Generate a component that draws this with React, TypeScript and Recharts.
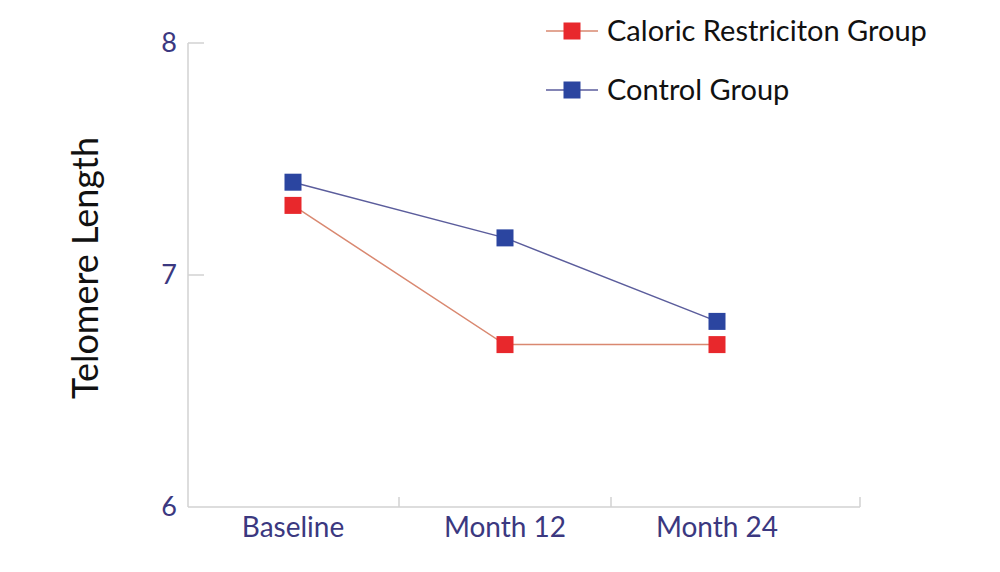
import { Line, LineChart, XAxis, YAxis } from 'recharts';

const categories = ['Baseline', 'Month 12', 'Month 24'];
const caloricValues = [7.3, 6.7, 6.7];
const controlValues = [7.4, 7.16, 6.8];
const yTicks = [6, 7, 8];
const caloricName = 'Caloric Restriciton Group';
const controlName = 'Control Group';
const yTitle = 'Telomere Length';

const data = categories.map((label, i) => ({
  label,
  caloric: caloricValues[i],
  control: controlValues[i],
}));

const FONT = 'Lato, "Open Sans", sans-serif';
const AXIS = '#d2d2d2';
const TICK_TEXT = '#3b3880';
const RED = '#e8282c';
const RED_LINE = '#d98870';
const BLUE = '#2b45a0';
const BLUE_LINE = '#5b5d9c';
const HALF_BAND = 106;
const PAD_LEFT = 105;
const PAD_RIGHT = 143;
const SQ = 17;

const squareDot = (color: string) => (props: any) => {
  const { cx, cy, index } = props;
  if (cx == null || cy == null) return <g key={index} />;
  return <rect key={index} x={cx - SQ / 2} y={cy - SQ / 2} width={SQ} height={SQ} fill={color} />;
};

const XTick = (props: any) => {
  const { x, y, payload, index } = props;
  const last = index === categories.length - 1;
  const edge = x + (last ? PAD_RIGHT : HALF_BAND);
  return (
    <g>
      <line x1={edge} x2={edge} y1={y - 10} y2={y} stroke={AXIS} strokeWidth={1.5} />
      <text x={x} y={y + 30} textAnchor='middle' fill={TICK_TEXT} fontSize={28} fontFamily={FONT}>
        {payload.value}
      </text>
    </g>
  );
};

const YTick = (props: any) => {
  const { x, y, payload } = props;
  return (
    <g>
      {payload.value !== yTicks[0] && (
        <line x1={x} x2={x + 16} y1={y} y2={y} stroke={AXIS} strokeWidth={1.5} />
      )}
      <text x={x - 11} y={y + 9} textAnchor='end' fill={TICK_TEXT} fontSize={27} fontFamily={FONT}>
        {payload.value}
      </text>
    </g>
  );
};

const YTitle = (props: any) => {
  const { viewBox } = props;
  const cx = viewBox.x + 64;
  const cy = viewBox.y + viewBox.height / 2 - 7;
  return (
    <text
      x={cx}
      y={cy}
      transform={`rotate(-90 ${cx} ${cy})`}
      textAnchor='middle'
      dominantBaseline='central'
      fill='#111'
      fontSize={36}
      fontFamily={FONT}
    >
      {yTitle}
    </text>
  );
};

// legend drawn as an overlay so it doesn't eat into the plot area
const LegendBox = () => {
  const rows = [
    { name: caloricName, fill: RED, line: RED_LINE },
    { name: controlName, fill: BLUE, line: BLUE_LINE },
  ];
  return (
    <svg width={440} height={110} style={{ position: 'absolute', left: 540, top: 11 }}>
      {rows.map((r, i) => {
        const cy = 20 + i * 59;
        return (
          <g key={r.name}>
            <line x1={6} x2={58} y1={cy} y2={cy} stroke={r.line} strokeWidth={1.5} />
            <rect x={32 - SQ / 2} y={cy - SQ / 2} width={SQ} height={SQ} fill={r.fill} />
            <text x={67} y={cy + 10} fill='#111' fontSize={29} fontFamily={FONT}>
              {r.name}
            </text>
          </g>
        );
      })}
    </svg>
  );
};

const App = () => {
  return (
    <div style={{ position: 'absolute', left: 0, top: 0, width: 1000, height: 572, background: '#fff' }}>
      <LineChart
        width={1000}
        height={572}
        data={data}
        margin={{ top: 43, right: 140, bottom: 35, left: 20 }}
      >
        <XAxis
          dataKey='label'
          height={30}
          padding={{ left: PAD_LEFT, right: PAD_RIGHT }}
          axisLine={{ stroke: AXIS, strokeWidth: 1.5 }}
          tickLine={false}
          tickSize={0}
          tickMargin={0}
          tick={<XTick />}
          interval={0}
        />
        <YAxis
          width={168}
          domain={[6, 8]}
          ticks={yTicks}
          axisLine={{ stroke: AXIS, strokeWidth: 1.5 }}
          tickLine={false}
          tickSize={0}
          tickMargin={0}
          tick={<YTick />}
          label={{ content: <YTitle /> }}
        />
        <Line
          type='linear'
          dataKey='caloric'
          name={caloricName}
          stroke={RED_LINE}
          strokeWidth={1.5}
          dot={squareDot(RED)}
          isAnimationActive={false}
        />
        <Line
          type='linear'
          dataKey='control'
          name={controlName}
          stroke={BLUE_LINE}
          strokeWidth={1.5}
          dot={squareDot(BLUE)}
          isAnimationActive={false}
        />
      </LineChart>
      <LegendBox />
    </div>
  );
};

export default App;
